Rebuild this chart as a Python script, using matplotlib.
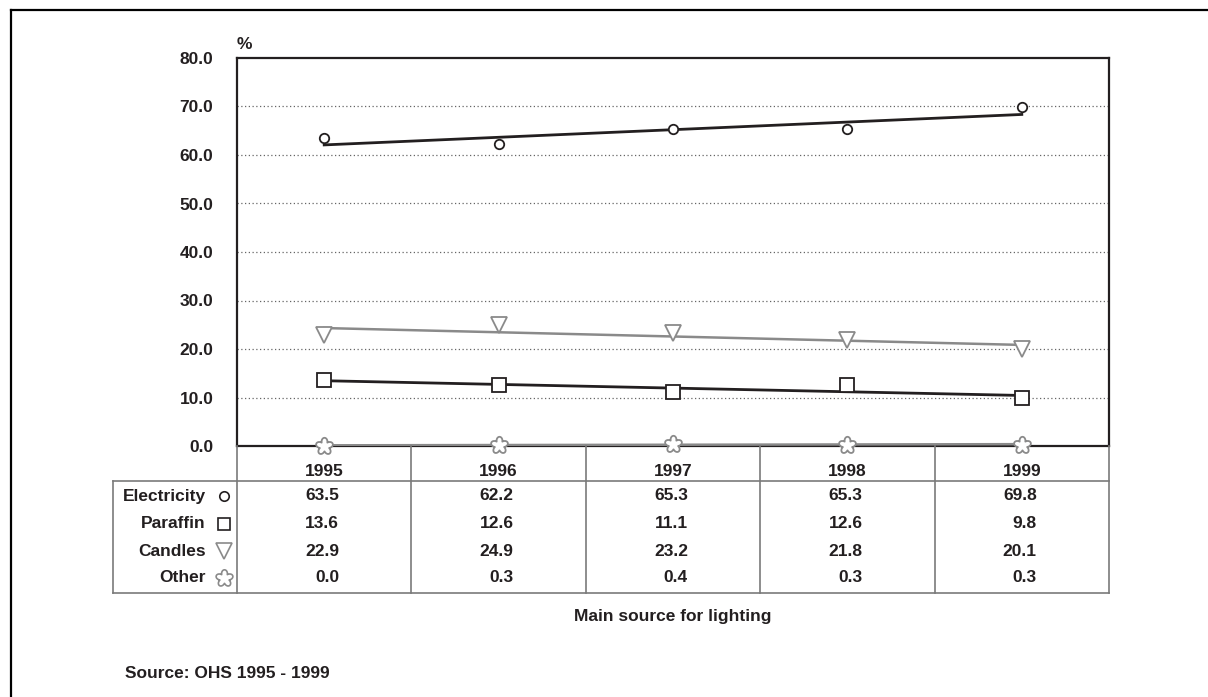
import numpy as np
import matplotlib.pyplot as plt
from matplotlib.path import Path

plt.rcParams['font.family'] = ['Liberation Sans', 'DejaVu Sans']
plt.rcParams['font.weight'] = 'bold'

# data
years = ['1995', '1996', '1997', '1998', '1999']
series_names = ['Electricity', 'Paraffin', 'Candles', 'Other']
electricity = [63.5, 62.2, 65.3, 65.3, 69.8]
paraffin = [13.6, 12.6, 11.1, 12.6, 9.8]
candles = [22.9, 24.9, 23.2, 21.8, 20.1]
other = [0.0, 0.3, 0.4, 0.3, 0.3]
yticks = [0, 10, 20, 30, 40, 50, 60, 70, 80]

INK = '#231f20'
GREY = '#8a8a8a'
W, H = 1208, 697
FS = 12.5

# five-petal flower outline for the "Other" marker
th = np.linspace(0, 2 * np.pi, 200)
r = 0.55 + 0.45 * np.abs(np.cos(2.5 * th))
flower = Path(np.column_stack([r * np.sin(th), r * np.cos(th)]), closed=True)

styles = [
    dict(marker='o', ms=6.8, mec=INK, line=INK, lw=2.0),
    dict(marker='s', ms=9.5, mec=INK, line=INK, lw=2.0),
    dict(marker='v', ms=11, mec=GREY, line=GREY, lw=1.8),
    dict(marker=flower, ms=12.5, mec=GREY, line=GREY, lw=1.8),
]
values = [electricity, paraffin, candles, other]

fig = plt.figure(figsize=(W / 100, H / 100), dpi=100)

# outer frame (left and top edges only)
fig.add_artist(plt.Line2D([11 / W, 11 / W], [0, 1 - 10 / H], color='black', lw=1.6,
                          transform=fig.transFigure))
fig.add_artist(plt.Line2D([11 / W, 1], [1 - 10 / H, 1 - 10 / H], color='black', lw=1.6,
                          transform=fig.transFigure))

ax = fig.add_axes([237 / W, 1 - 446 / H, 872 / W, 388 / H])
x = np.arange(len(years))
for vals, st in zip(values, styles):
    k, b = np.polyfit(x, vals, 1)
    ax.plot(x, k * x + b, color=st['line'], lw=st['lw'], zorder=3)
    ax.plot(x, vals, linestyle='none', marker=st['marker'], ms=st['ms'],
            mfc='white', mec=st['mec'], mew=1.3, zorder=4, clip_on=False)

ax.set_xlim(-0.5, len(years) - 0.5)
ax.set_ylim(0, 80)
ax.set_xticks([])
ax.set_yticks(yticks)
ax.set_yticklabels([f'{v:.1f}' for v in yticks], fontsize=FS, fontweight='bold', color=INK)
ax.tick_params(axis='y', length=0, pad=17)
for v in yticks[1:-1]:
    ax.axhline(v, color='#666666', lw=0.9, ls=(0, (1, 2)), zorder=1)
for s in ax.spines.values():
    s.set_color(INK)
    s.set_linewidth(1.6)
ax.text(0.0, 1.035, '%', transform=ax.transAxes, fontsize=FS, fontweight='bold',
        color=INK, ha='left', va='center')

# data table under the plot, sharing the category positions
tax = fig.add_axes([237 / W, 1 - 593 / H, 872 / W, 147 / H])
tax.set_xlim(-0.5, len(years) - 0.5)
tax.set_ylim(147, 0)
tax.axis('off')
tc = '#7a7a7a'
left = -0.5 - 124 / 174.4
for k in range(len(years) + 1):
    tax.plot([k - 0.5, k - 0.5], [0, 147], color=tc, lw=1.2, clip_on=False)
tax.plot([left, left], [35, 147], color=tc, lw=1.2, clip_on=False)
for yy in (35, 147):
    tax.plot([left, len(years) - 0.5], [yy, yy], color=tc, lw=1.2, clip_on=False)

for i, yr in enumerate(years):
    tax.text(i, 25, yr, ha='center', va='center', fontsize=FS, fontweight='bold', color=INK)

row_y = [50, 78, 105, 132]
label_x = -0.5 - 31 / 174.4
mark_x = -0.5 - 13 / 174.4
mark_scale = [1.0, 0.9, 1.0, 1.0]
for name, vals, st, yy, sc in zip(series_names, values, styles, row_y, mark_scale):
    tax.text(label_x, yy, name, ha='right', va='center', fontsize=FS,
             fontweight='bold', color=INK, clip_on=False)
    tax.plot([mark_x], [yy], marker=st['marker'], ms=st['ms'] * sc, mfc='white',
             mec=st['mec'], mew=1.2, linestyle='none', clip_on=False)
    for i, v in enumerate(vals):
        tax.text(i + 15 / 174.4, yy, f'{v:.1f}', ha='right', va='center',
                 fontsize=FS, fontweight='bold', color=INK)

fig.text(673 / W, 1 - 617 / H, 'Main source for lighting', ha='center', va='center',
         fontsize=FS, fontweight='bold', color=INK)
fig.text(125 / W, 1 - 673 / H, 'Source: OHS 1995 - 1999', ha='left', va='center',
         fontsize=FS, fontweight='bold', color=INK)

fig.savefig('out.png', dpi=100, facecolor='white')
